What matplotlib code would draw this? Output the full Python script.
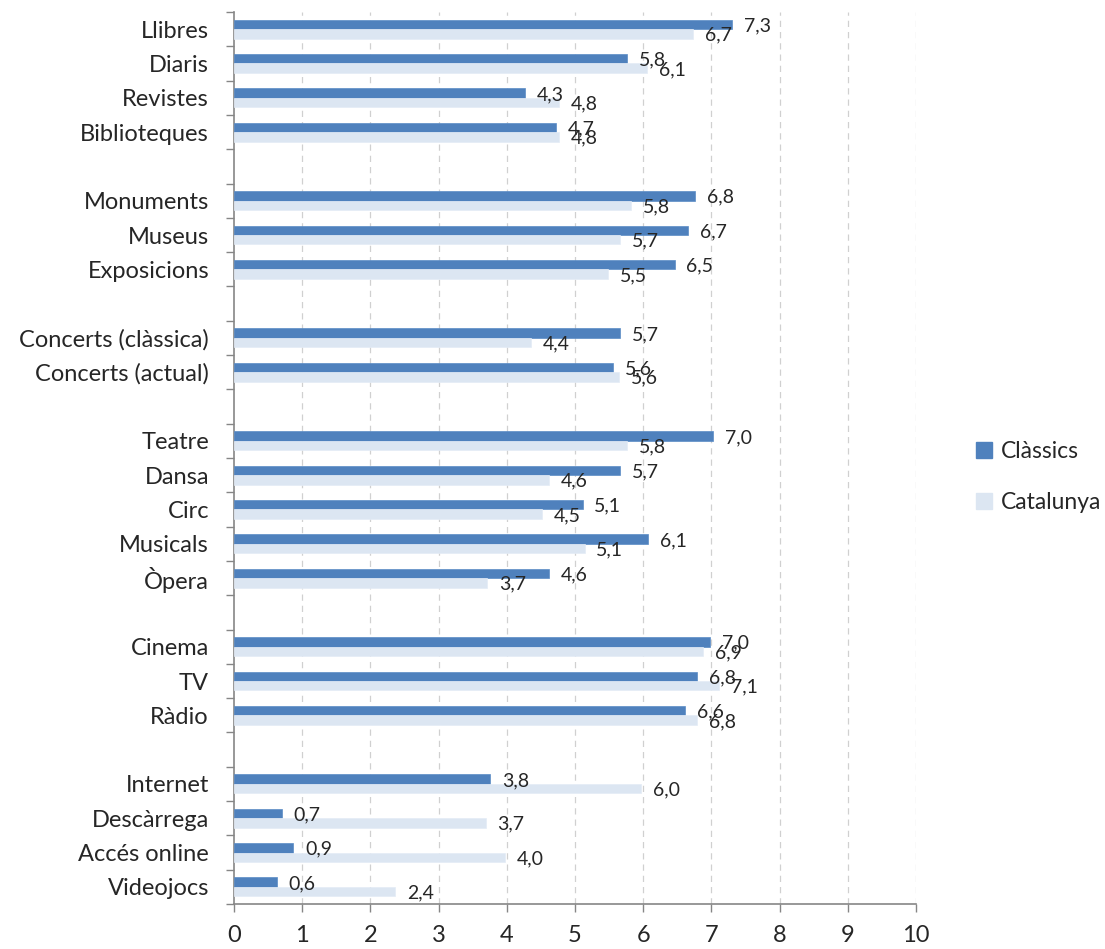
import matplotlib
matplotlib.use("Agg")
import matplotlib.pyplot as plt
from matplotlib.patches import Patch
from matplotlib.ticker import FixedLocator
import numpy as np

# ---- data ----
groups = [
    ["Llibres", "Diaris", "Revistes", "Biblioteques"],
    ["Monuments", "Museus", "Exposicions"],
    ["Concerts (clàssica)", "Concerts (actual)"],
    ["Teatre", "Dansa", "Circ", "Musicals", "Òpera"],
    ["Cinema", "TV", "Ràdio"],
    ["Internet", "Descàrrega", "Accés online", "Videojocs"],
]
classics = [7.30, 5.76, 4.26, 4.72,
            6.76, 6.66, 6.46,
            5.66, 5.56,
            7.03, 5.66, 5.11, 6.07, 4.62,
            6.98, 6.79, 6.62,
            3.76, 0.70, 0.87, 0.63]
catalunya = [6.73, 6.06, 4.77, 4.77,
             5.82, 5.66, 5.49,
             4.36, 5.64,
             5.76, 4.62, 4.51, 5.14, 3.71,
             6.88, 7.11, 6.79,
             5.97, 3.69, 3.97, 2.36]
series_names = ["Clàssics", "Catalunya"]
xticks = list(range(0, 11))

# ---- style ----
FONT = "Lato"
c_dark = "#4F81BD"
c_light = "#DCE6F2"
axis_grey = "#868686"
txt = "#262626"

plt.rcParams["font.family"] = [FONT, "DejaVu Sans"]

# row positions (top to bottom) with an empty row between groups
cats, rows = [], []
r = 0
for gi, g in enumerate(groups):
    for c in g:
        cats.append(c)
        rows.append(r)
        r += 1
    if gi < len(groups) - 1:
        r += 1
nrows = r
ypos = np.array([nrows - 1 - rr for rr in rows], dtype=float)

fig = plt.figure(figsize=(11.05, 9.49), dpi=100)
ax = fig.add_axes([234 / 1105, 1 - 904 / 949, (916 - 234) / 1105, (904 - 12) / 949])

h = 0.275
ax.barh(ypos + h / 2, classics, height=h, color=c_dark, edgecolor="#5B8CC6", linewidth=0.5, zorder=3)
ax.barh(ypos - h / 2, catalunya, height=h, color=c_light, edgecolor="#E4ECF6", linewidth=0.5, zorder=3)

fmt = lambda v: f"{v:.1f}".replace(".", ",")
for y, v in zip(ypos, classics):
    ax.annotate(fmt(v), (v, y + h / 2), xytext=(8.5, -1), textcoords="offset points",
                ha="left", va="center", fontsize=14, color=txt, zorder=4)
for y, v in zip(ypos, catalunya):
    ax.annotate(fmt(v), (v, y - h / 2), xytext=(8.5, -1), textcoords="offset points",
                ha="left", va="center", fontsize=14, color=txt, zorder=4)

ax.set_xlim(0, 10)
ax.set_ylim(-0.5, nrows - 0.5)

ax.set_xticks(xticks)
ax.set_xticklabels([str(t) for t in xticks], fontsize=17, color=txt)
ax.tick_params(axis="x", length=6, width=1, color=axis_grey, pad=9)

ax.set_yticks(ypos)
ax.set_yticklabels(cats, fontsize=17, color=txt)
ax.tick_params(axis="y", which="major", length=0, pad=18)
ax.yaxis.set_minor_locator(FixedLocator(np.arange(-0.5, nrows, 1.0)))
ax.tick_params(axis="y", which="minor", length=6, width=1, color=axis_grey)

for x in xticks[1:]:
    ax.axvline(x, color="#D0D0D0", linestyle=(0, (5, 4)), linewidth=0.9, zorder=1)

for s in ["top", "right"]:
    ax.spines[s].set_visible(False)
for s in ["left", "bottom"]:
    ax.spines[s].set_color(axis_grey)
    ax.spines[s].set_linewidth(1.2)

handles = [Patch(facecolor=c_dark, edgecolor=c_dark), Patch(facecolor=c_light, edgecolor=c_light)]
fig.legend(handles, series_names, loc="center left", bbox_to_anchor=(955 / 1105, 1 - 477 / 949),
           frameon=False, fontsize=16.5, handlelength=0.7, handleheight=0.7,
           handletextpad=0.4, labelspacing=1.3, labelcolor=txt)

fig.savefig("out.png", dpi=100)
